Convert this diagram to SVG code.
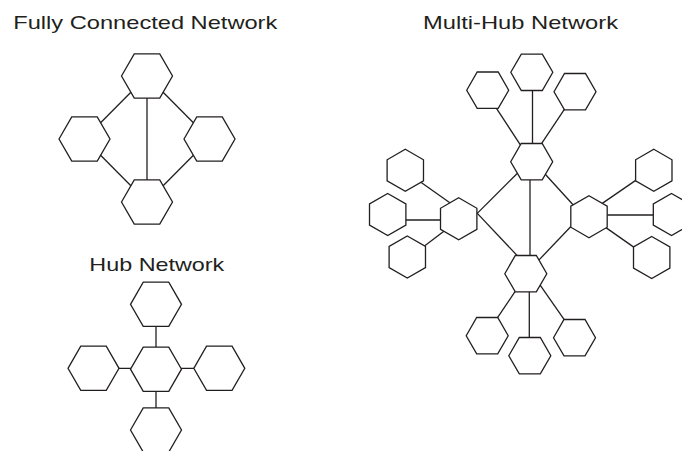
<svg xmlns="http://www.w3.org/2000/svg" xmlns:xlink="http://www.w3.org/1999/xlink" width="682" height="451" viewBox="0 0 682 451">
  <style>
    .title { font-family: "Liberation Sans", Arial, Helvetica, sans-serif; font-size: 19px; fill: #231f20; }
    .link { stroke: #231f20; stroke-width: 1.3; fill: none; }
    .hex { fill: #ffffff; stroke: #231f20; stroke-width: 1.3; stroke-linejoin: miter; }
  </style>
  <defs>
    <!-- large flat-top hexagon -->
    <polygon id="hexL" class="hex" points="-25.5,0 -12.75,-22.08 12.75,-22.08 25.5,0 12.75,22.08 -12.75,22.08"/>
    <!-- small flat-top hexagon -->
    <polygon id="hexS" class="hex" points="-21,0 -10.5,-18.19 10.5,-18.19 21,0 10.5,18.19 -10.5,18.19"/>
    <!-- small pointy-top hexagon -->
    <polygon id="hexP" class="hex" points="0,-21 18.19,-10.5 18.19,10.5 0,21 -18.19,10.5 -18.19,-10.5"/>
  </defs>

  <rect width="682" height="451" fill="#ffffff"/>

  <!-- titles -->
  <g id="titles">
    <text class="title" x="13.3" y="28.7" textLength="264" lengthAdjust="spacingAndGlyphs">Fully Connected Network</text>
    <text class="title" x="423" y="28.7" textLength="195" lengthAdjust="spacingAndGlyphs">Multi-Hub Network</text>
    <text class="title" x="89.3" y="271.3" textLength="135" lengthAdjust="spacingAndGlyphs">Hub Network</text>
  </g>

  <!-- connectors (drawn beneath the white-filled nodes) -->
  <g id="connectors" class="link">
    <!-- fully connected -->
    <line x1="147" y1="76" x2="84.5" y2="139"/>
    <line x1="147" y1="76" x2="209.5" y2="139"/>
    <line x1="147" y1="76" x2="147" y2="202"/>
    <line x1="84.5" y1="139" x2="147" y2="202"/>
    <line x1="209.5" y1="139" x2="147" y2="202"/>
    <!-- hub -->
    <line x1="156" y1="304.3" x2="156" y2="430"/>
    <line x1="93.5" y1="368.3" x2="219.3" y2="368.3"/>
    <!-- multi-hub: hub to hub -->
    <line x1="530" y1="176" x2="530" y2="260"/>
    <line x1="519.5" y1="171.2" x2="474.5" y2="216.1"/>
    <line x1="542.3" y1="171" x2="576" y2="208"/>
    <line x1="474.5" y1="210.4" x2="521" y2="259.6"/>
    <line x1="573.5" y1="223.8" x2="536.2" y2="262.9"/>
    <!-- multi-hub: top hub leaves -->
    <line x1="532.5" y1="86" x2="532.5" y2="148"/>
    <line x1="494.5" y1="105.4" x2="521.5" y2="146.6"/>
    <line x1="566.2" y1="106.7" x2="539.5" y2="146.6"/>
    <!-- multi-hub: left hub leaves -->
    <line x1="417.7" y1="180" x2="451.6" y2="204"/>
    <line x1="402" y1="220" x2="444" y2="220"/>
    <line x1="422.5" y1="247.4" x2="446.5" y2="229.3"/>
    <!-- multi-hub: right hub leaves -->
    <line x1="599" y1="205.6" x2="638.6" y2="178.4"/>
    <line x1="603" y1="215" x2="657" y2="215"/>
    <line x1="602.7" y1="225.4" x2="637.3" y2="249.6"/>
    <!-- multi-hub: bottom hub leaves -->
    <line x1="517.2" y1="288.4" x2="495.5" y2="320.6"/>
    <line x1="529.3" y1="287" x2="529.3" y2="341"/>
    <line x1="537.7" y1="281.7" x2="566.3" y2="322.6"/>
  </g>

  <!-- fully connected network -->
  <g id="fc-top"><use xlink:href="#hexL" x="147" y="76"/></g>
  <g id="fc-left"><use xlink:href="#hexL" x="84.5" y="139"/></g>
  <g id="fc-right"><use xlink:href="#hexL" x="209.5" y="139"/></g>
  <g id="fc-bottom"><use xlink:href="#hexL" x="147" y="202"/></g>

  <!-- hub network -->
  <g id="hub-center"><use xlink:href="#hexL" x="156" y="369.2"/></g>
  <g id="hub-top"><use xlink:href="#hexL" x="156" y="304.3"/></g>
  <g id="hub-left"><use xlink:href="#hexL" x="93.5" y="368.3"/></g>
  <g id="hub-right"><use xlink:href="#hexL" x="219.3" y="368.3"/></g>
  <g id="hub-bottom"><use xlink:href="#hexL" x="156" y="430"/></g>

  <!-- multi-hub network: hubs -->
  <g id="mh-top"><use xlink:href="#hexS" x="531.7" y="161.7"/></g>
  <g id="mh-left"><use xlink:href="#hexP" x="458.7" y="218.8"/></g>
  <g id="mh-right"><use xlink:href="#hexP" x="589" y="216.7"/></g>
  <g id="mh-bottom"><use xlink:href="#hexS" x="525.8" y="273.7"/></g>

  <!-- multi-hub network: leaves -->
  <g id="mh-top-left"><use xlink:href="#hexS" x="487.7" y="90.2"/></g>
  <g id="mh-top-center"><use xlink:href="#hexS" x="531.8" y="72.3"/></g>
  <g id="mh-top-right"><use xlink:href="#hexS" x="575" y="91.7"/></g>
  <g id="mh-left-upper"><use xlink:href="#hexP" x="405.3" y="170.3"/></g>
  <g id="mh-left-middle"><use xlink:href="#hexP" x="387.7" y="214.5"/></g>
  <g id="mh-left-lower"><use xlink:href="#hexP" x="407.3" y="257"/></g>
  <g id="mh-right-upper"><use xlink:href="#hexP" x="653.8" y="170.3"/></g>
  <g id="mh-right-middle"><use xlink:href="#hexP" x="671.5" y="214.5"/></g>
  <g id="mh-right-lower"><use xlink:href="#hexP" x="651.7" y="257.5"/></g>
  <g id="mh-bottom-left"><use xlink:href="#hexS" x="487.2" y="335.7"/></g>
  <g id="mh-bottom-center"><use xlink:href="#hexS" x="529.8" y="355.7"/></g>
  <g id="mh-bottom-right"><use xlink:href="#hexS" x="574.5" y="337.7"/></g>
</svg>
